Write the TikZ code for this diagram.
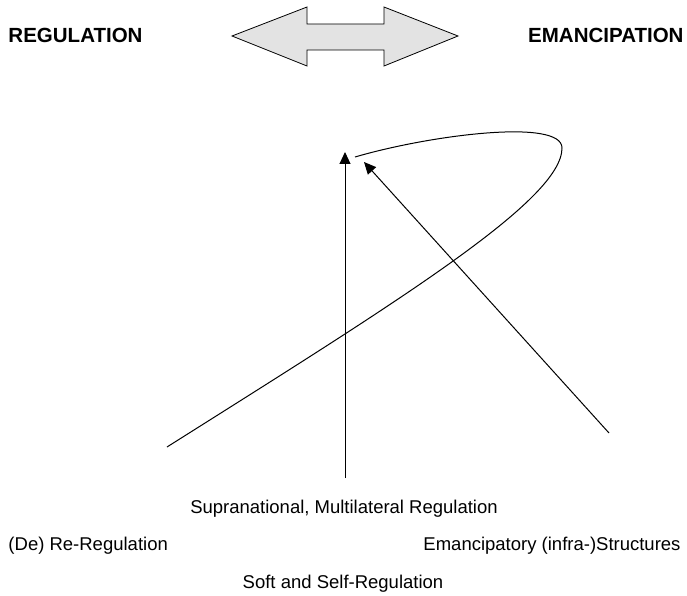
\documentclass[tikz,border=0pt]{standalone}
\usepackage{fontspec}
\setmainfont{Liberation Sans}
\usetikzlibrary{arrows.meta}
\begin{document}
\begin{tikzpicture}[x=1pt,y=-1pt,
                        pole/.style={font=\fontsize{20.5}{24}\selectfont\bfseries,inner sep=0pt},
                        lbl/.style={font=\fontsize{18.5}{22}\selectfont,inner sep=0pt},
                        pfeil/.style={-{Triangle[length=12pt,width=11pt]},line width=1pt},
                        line width=1pt]
                        \useasboundingbox (0,0) rectangle (687,596);
                        \node[pole,anchor=base west] at (8,43) (reg) {REGULATION};
                        \node[pole,anchor=base east] at (684,43) (eman) {EMANCIPATION};
                        \draw[fill=gray!22,line width=0.8pt] (232,36) -- (307,7) -- (307,24) -- (384,24) -- (384,7)
                                -- (458,36) -- (384,66) -- (384,50) -- (307,50) -- (307,66) -- cycle;
                        \draw (167,447) .. controls (400,300) and (562,200) .. (562,148)
                                .. controls (562,118) and (430,135) .. (355,157);
                        \coordinate (supfuss) at (345,478);
                        \coordinate (supspitze) at (345,152);
                        \coordinate (emfuss) at (609,433);
                        \coordinate (emspitze) at (364,162);
                        \draw[pfeil] (supfuss) -- (supspitze);
                        \draw[pfeil] (emfuss) -- (emspitze);
                        \node[lbl,anchor=base] at (344,513) (supra) {Supranational, Multilateral Regulation};
                        \node[lbl,anchor=base west] at (8,550) (dere) {(De) Re-Regulation};
                        \node[lbl,anchor=base east] at (681,550) (infra) {Emancipatory (infra-)Structures};
                        \node[lbl,anchor=base] at (343,588) (soft) {Soft and Self-Regulation};
                \end{tikzpicture}
\end{document}
